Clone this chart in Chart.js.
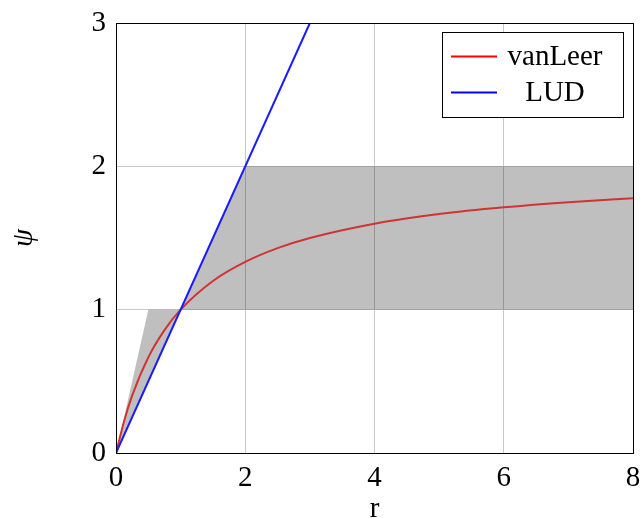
<!DOCTYPE html>
<html>
<head>
<meta charset="utf-8">
<script src="https://cdn.jsdelivr.net/npm/chart.js@4"></script>
<style>
  html, body { margin: 0; padding: 0; background: #fff; }
  #wrap { width: 644px; height: 519px; }
</style>
</head>
<body>
<div id="wrap"><canvas id="js-canvas-limiter" width="644" height="519"></canvas></div>
<script>
// vanLeer limiter psi(r), sampled
const vanLeerR = [0, 0.125, 0.25, 0.5, 0.75, 1, 1.5, 2, 2.5, 3, 4, 5, 6, 7, 8];
const vanLeerPsi = [0, 0.222, 0.4, 0.667, 0.857, 1, 1.2, 1.333, 1.429, 1.5, 1.6, 1.667, 1.714, 1.75, 1.778];
// linear upwind: psi = r
const ludR = [0, 3];
const ludPsi = [0, 3];
// second order TVD region outline
const regionR = [0, 0.5, 1, 2, 8, 8, 1, 0];
const regionPsi = [0, 1, 1, 2, 2, 1, 1, 0];

const xTicks = [0, 2, 4, 6, 8];
const yTicks = [0, 1, 2, 3];

const serif = "'Liberation Serif', 'DejaVu Serif', serif";
const fontSize = 29;

const toPoints = (xs, ys) => xs.map((x, i) => ({ x: x, y: ys[i] }));

// box round the plot area and the framed legend in the upper right
const framePlugin = {
  id: 'frame',
  afterDraw(chart) {
    const { ctx, chartArea: a } = chart;
    ctx.save();
    ctx.strokeStyle = '#000';
    ctx.lineWidth = 1;
    ctx.strokeRect(a.left + 0.5, a.top + 0.5, a.right - a.left, a.bottom - a.top);

    const bx = 442.5, by = 32.5, bw = 181, bh = 85;
    ctx.fillStyle = '#fff';
    ctx.fillRect(bx, by, bw, bh);
    ctx.strokeRect(bx, by, bw, bh);

    const entries = chart.data.datasets.filter(d => d.label);
    entries.forEach((d, i) => {
      const y = by + 24 + i * 36;
      ctx.strokeStyle = d.legendColor;
      ctx.lineWidth = 2;
      ctx.beginPath();
      ctx.moveTo(451, y);
      ctx.lineTo(497, y);
      ctx.stroke();
      ctx.fillStyle = '#000';
      ctx.font = fontSize + 'px ' + serif;
      ctx.textAlign = 'center';
      ctx.textBaseline = 'middle';
      ctx.fillText(d.label, 555, y + 1);
    });
    ctx.restore();
  }
};

new Chart(document.getElementById('js-canvas-limiter'), {
  type: 'scatter',
  data: {
    datasets: [
      {
        data: toPoints(regionR, regionPsi),
        showLine: true,
        fill: 'shape',
        backgroundColor: 'rgba(0, 0, 0, 0.25)',
        borderWidth: 0,
        pointRadius: 0,
        tension: 0,
        order: 2
      },
      {
        label: 'vanLeer',
        data: toPoints(vanLeerR, vanLeerPsi),
        showLine: true,
        borderColor: '#cf3434',
        legendColor: '#ff0000',
        borderWidth: 2,
        pointRadius: 0,
        cubicInterpolationMode: 'monotone',
        order: 1
      },
      {
        label: 'LUD',
        data: toPoints(ludR, ludPsi),
        showLine: true,
        borderColor: '#1a1aff',
        legendColor: '#0000ff',
        borderWidth: 2,
        pointRadius: 0,
        order: 0
      }
    ]
  },
  options: {
    responsive: false,
    animation: false,
    layout: { padding: { top: 23, right: 11, left: 0, bottom: 0 } },
    plugins: {
      legend: { display: false },
      tooltip: { enabled: false }
    },
    scales: {
      x: {
        type: 'linear',
        min: 0,
        max: 8,
        afterBuildTicks: s => { s.ticks = xTicks.map(v => ({ value: v })); },
        afterFit: s => {
          s.height = 66;
          s.paddingLeft = 0;
          s.paddingRight = 0;
        },
        grid: { color: '#c8c8c8', drawTicks: false },
        border: { display: false },
        ticks: { color: '#000', padding: 8, maxRotation: 0, font: { family: serif, size: fontSize } },
        title: {
          display: true,
          text: 'r',
          color: '#000',
          padding: { top: 0, bottom: -5 },
          font: { family: serif, size: fontSize, lineHeight: 1 }
        }
      },
      y: {
        type: 'linear',
        min: 0,
        max: 3,
        afterBuildTicks: s => { s.ticks = yTicks.map(v => ({ value: v })); },
        afterFit: s => {
          s.width = 116;
          s.paddingTop = 0;
          s.paddingBottom = 0;
        },
        grid: { color: '#c8c8c8', drawTicks: false },
        border: { display: false },
        ticks: { color: '#000', padding: 10, font: { family: serif, size: fontSize } },
        title: {
          display: true,
          text: 'ψ',
          color: '#000',
          padding: { top: 10, bottom: 0 },
          font: { family: serif, size: fontSize, style: 'italic', lineHeight: 1 }
        }
      }
    }
  },
  plugins: [framePlugin]
});
</script>
</body>
</html>
